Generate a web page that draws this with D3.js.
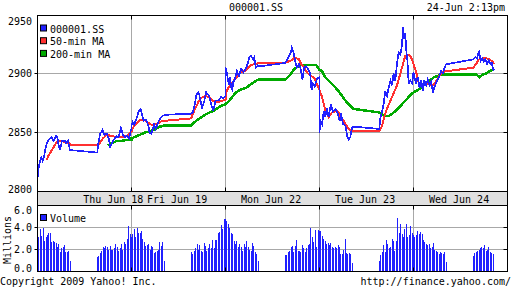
<!DOCTYPE html>
<html lang="en">
<head>
<meta charset="utf-8">
<title>000001.SS</title>
<script src="https://cdn.jsdelivr.net/npm/d3@7"></script>
<style>
  body { margin: 0; background: #fff; }
  text { font-family: "DejaVu Sans Mono", monospace; font-size: 10px; fill: #000; }
</style>
</head>
<body>
<script>
// trading days, 9:30-15:00 each (330 minutes incl. lunch break)
const days = ["Thu Jun 18", "Fri Jun 19", "Mon Jun 22", "Tue Jun 23", "Wed Jun 24"];
const dayLabelAt = [266, 160, 160, 160, 160]; // minute of the day where the label is centred
const priceTicks = [2800, 2850, 2900, 2950];
const volTicks = [0, 2, 4, 6];

// [minute after open, value]
const price = [
  [[0,2810],[2,2817],[8,2825],[13,2829],[18,2826],[23,2829],[26,2834],[33,2841],[40,2844],[50,2846],[56,2843],[65,2847],[70,2846],[72,2842],[79,2835],[86,2843],[96,2843],[100,2841],[107,2843],[114,2835],[120,2835],[210,2833],[213,2840],[220,2849],[228,2852],[235,2848],[243,2849],[250,2845],[255,2838],[260,2840],[268,2844],[278,2847],[285,2846],[293,2854],[300,2848],[307,2846],[315,2847],[322,2845],[327,2851],[330,2853]],
  [[0,2856],[4,2859],[10,2857],[18,2862],[25,2868],[32,2870],[36,2866],[42,2860],[50,2861],[56,2858],[60,2855],[63,2850],[70,2849],[75,2853],[79,2857],[85,2853],[96,2860],[108,2864],[120,2865],[210,2866],[215,2867],[222,2874],[228,2882],[234,2884],[238,2882],[243,2876],[248,2871],[255,2876],[262,2884],[272,2881],[280,2874],[287,2868],[295,2877],[305,2877],[314,2880],[322,2879],[330,2881]],
  [[0,2905],[5,2900],[12,2890],[16,2897],[20,2888],[24,2886],[27,2893],[32,2894],[40,2902],[47,2898],[55,2904],[63,2901],[73,2905],[80,2910],[84,2914],[90,2915],[97,2912],[101,2914],[106,2905],[114,2907],[120,2906],[210,2909],[217,2912],[224,2915],[230,2918],[233,2922],[239,2918],[246,2909],[251,2905],[258,2908],[264,2904],[270,2895],[276,2905],[283,2906],[289,2904],[297,2900],[302,2886],[307,2891],[313,2889],[322,2896],[330,2897]],
  [[0,2850],[3,2860],[9,2857],[15,2868],[20,2863],[26,2871],[32,2863],[40,2874],[47,2868],[56,2870],[64,2866],[71,2860],[75,2866],[83,2857],[91,2856],[97,2847],[102,2844],[108,2846],[114,2854],[120,2855],[210,2853],[214,2863],[220,2868],[225,2874],[231,2885],[237,2881],[243,2888],[249,2894],[255,2890],[260,2900],[266,2894],[272,2908],[278,2918],[284,2916],[290,2925],[293,2939],[298,2929],[301,2934],[305,2919],[309,2910],[313,2891],[319,2894],[325,2892],[330,2901]],
  [[0,2901],[3,2897],[9,2892],[15,2897],[21,2888],[27,2894],[33,2885],[38,2894],[44,2890],[50,2895],[56,2890],[62,2893],[68,2884],[73,2888],[79,2892],[85,2895],[91,2898],[97,2902],[103,2900],[109,2905],[115,2908],[120,2908],[210,2912],[218,2914],[223,2913],[227,2917],[230,2918],[236,2911],[241,2913],[246,2910],[252,2912],[258,2908],[264,2911],[270,2908],[275,2909],[279,2904],[283,2903]]
];

const ma50 = [
  [[32,2827],[40,2831],[50,2835],[68,2842],[79,2843],[96,2842],[110,2841],[120,2839],[210,2839],[219,2841],[230,2845],[243,2848],[261,2847],[279,2846],[296,2846],[313,2847],[328,2850],[330,2851]],
  [[0,2852],[14,2857],[26,2860],[38,2861],[49,2860],[61,2858],[73,2856],[84,2857],[96,2858],[108,2860],[120,2860],[210,2862],[214,2865],[225,2871],[237,2877],[249,2880],[260,2881],[272,2880],[284,2877],[295,2876],[307,2876],[319,2877],[330,2878]],
  [[0,2883],[8,2887],[20,2891],[32,2895],[43,2898],[55,2901],[67,2902],[79,2905],[90,2907],[102,2908],[120,2909],[210,2909],[219,2910],[231,2911],[239,2913],[248,2913],[258,2912],[266,2908],[278,2904],[289,2900],[301,2898],[313,2896],[321,2891],[330,2886]],
  [[0,2886],[9,2880],[15,2874],[20,2869],[26,2866],[32,2863],[38,2865],[44,2867],[56,2868],[64,2868],[73,2864],[85,2860],[94,2856],[102,2853],[114,2851],[120,2851],[210,2851],[214,2853],[220,2856],[225,2861],[231,2866],[237,2870],[249,2877],[260,2883],[272,2890],[284,2900],[293,2908],[301,2915],[310,2916],[319,2915],[328,2910],[330,2908]],
  [[0,2907],[6,2904],[13,2898],[17,2893],[24,2891],[44,2891],[56,2891],[64,2890],[73,2891],[83,2895],[91,2898],[103,2901],[114,2902],[120,2902],[210,2905],[220,2908],[226,2911],[231,2912],[243,2913],[255,2913],[267,2912],[278,2910],[283,2908]]
];

const ma200 = [
  [[246,2839],[261,2841],[279,2843],[296,2843],[324,2844],[330,2844]],
  [[0,2845],[29,2848],[47,2850],[65,2851],[82,2853],[100,2855],[117,2856],[120,2856],[210,2856],[222,2859],[240,2862],[258,2865],[275,2867],[293,2869],[310,2872],[330,2874]],
  [[0,2874],[14,2877],[26,2881],[38,2884],[49,2886],[61,2887],[73,2888],[84,2890],[96,2892],[108,2894],[120,2895],[210,2895],[219,2897],[231,2900],[242,2904],[254,2906],[266,2907],[319,2907],[330,2903]],
  [[0,2903],[9,2902],[20,2897],[32,2894],[44,2891],[56,2888],[67,2885],[79,2881],[91,2877],[102,2874],[114,2871],[120,2870],[210,2867],[220,2865],[231,2864],[243,2864],[255,2866],[266,2868],[278,2871],[290,2874],[301,2877],[313,2880],[325,2883],[330,2884]],
  [[0,2884],[15,2886],[27,2888],[38,2891],[50,2892],[62,2895],[73,2897],[85,2898],[97,2899],[109,2899],[120,2899],[210,2899],[220,2899],[226,2898],[232,2897],[243,2899],[255,2900],[267,2902],[278,2903],[283,2904]]
];

// 5-minute volume in millions: 24 morning bars then afternoon bars
const volume = [
  [2.5,3.1,3.9,3.2,4.0,2.8,3.1,3.3,3.5,3.5,2.7,2.8,2.7,2.6,2.2,2.5,1.8,2.1,2.2,2.4,1.8,1.8,1.9,1.0,
   1.3,1.4,1.7,1.9,2.2,2.1,2.3,2.2,2.0,2.3,2.0,2.0,2.1,2.5,2.2,1.9,2.1,2.5,2.0,2.7,2.5,3.0,4.1,3.4],
  [3.1,3.4,3.9,3.1,4.0,3.5,3.5,3.7,3.0,2.7,2.3,2.4,2.5,2.0,2.3,2.2,1.7,1.8,1.9,2.0,2.7,2.3,2.7,1.0,
   1.8,1.6,1.9,2.1,2.5,2.0,2.4,1.9,1.8,2.6,2.3,1.9,2.1,2.5,2.1,2.9,2.1,2.9,2.9,3.5,3.6,4.2,3.9,4.8],
  [4.8,4.6,4.3,4.0,3.5,3.4,2.8,2.5,2.8,2.2,2.5,2.2,1.9,2.5,2.2,2.8,2.2,2.0,1.9,2.6,2.3,1.8,1.6,1.0,
   1.5,1.5,1.8,1.9,2.2,2.3,1.8,2.3,2.9,1.9,1.9,1.8,2.4,2.1,1.8,2.1,2.4,2.5,4.0,3.1,2.7,3.8,2.2,3.8],
  [3.7,3.7,3.2,3.0,2.8,2.5,2.6,2.4,2.6,2.2,2.1,2.2,2.1,2.4,2.2,1.6,1.6,2.0,3.0,1.7,1.6,1.7,1.6,0.8,
   1.0,1.5,1.8,2.4,1.8,2.9,2.5,2.1,2.2,3.0,2.8,1.9,2.8,4.9,3.5,4.3,3.4,3.1,3.9,4.3,3.1,3.3,4.1,3.5],
  [3.3,3.1,3.3,3.7,3.4,3.6,3.4,2.9,2.7,2.5,2.4,2.5,2.1,2.2,2.6,2.0,1.9,1.8,1.6,1.8,1.7,1.6,1.8,0.85,
   1.4,1.7,1.8,1.9,2.0,2.1,2.2,2.1,2.4,1.9,2.0,2.2,1.8,1.7,1.6]
];

const BLUE = "#2020ff", RED = "#ff3030", GREEN = "#00aa00", GRID = "#a8a8a8";
const DAY = 330;

const svg = d3.select("body").append("svg")
  .attr("width", 512)
  .attr("height", 288);

const L = 37.5, R = 507.5, PT = 15.5, PB = 191.5, VT = 205.5, VB = 271.5;

const x = d3.scaleLinear().domain([0, days.length * DAY]).range([L, R]);
const y = d3.scaleLinear().domain([2800, 2950]).range([PB, PT - 1]);
const yv = d3.scaleLinear().domain([0, 6]).range([VB, VT]);

function flatten(series) {
  return series.flatMap((d, i) => d.map(p => [i * DAY + p[0], p[1]]));
}

// date band
svg.append("rect")
  .attr("x", L).attr("y", PB).attr("width", R - L).attr("height", VT - PB)
  .attr("fill", "#e0e0e0");

svg.selectAll(".daylabel").data(days).enter().append("text")
  .attr("x", (d, i) => x(i * DAY + dayLabelAt[i]))
  .attr("y", 202.5)
  .attr("text-anchor", "middle")
  .text(d => d);

// grid
const bounds = d3.range(1, days.length).map(i => i * DAY);
[[PT, PB], [VT, VB]].forEach(([t, b]) => {
  svg.selectAll(null).data(bounds).enter().append("line")
    .attr("x1", d => x(d)).attr("x2", d => x(d))
    .attr("y1", t).attr("y2", b)
    .attr("stroke", GRID);
});
svg.selectAll(null).data([2850, 2900]).enter().append("line")
  .attr("x1", L).attr("x2", R).attr("y1", d => y(d)).attr("y2", d => y(d))
  .attr("stroke", GRID);
svg.selectAll(null).data([2, 4]).enter().append("line")
  .attr("x1", L).attr("x2", R).attr("y1", d => yv(d)).attr("y2", d => yv(d))
  .attr("stroke", GRID);

// volume bars
const vols = volume.flatMap((d, i) => d.map((v, j) =>
  [i * DAY + (j < 24 ? j * 5 : 210 + (j - 24) * 5), v]));
svg.append("g").selectAll("rect").data(vols).enter().append("rect")
  .attr("x", d => Math.floor(x(d[0])))
  .attr("width", 1)
  .attr("y", d => Math.round(yv(d[1])))
  .attr("height", d => VB - Math.round(yv(d[1])))
  .attr("fill", BLUE)
  .attr("shape-rendering", "crispEdges");

// price lines, drawn aliased like the original bitmap
const line = d3.line().x(d => x(d[0])).y(d => y(d[1]));
[[ma200, GREEN, 2.5], [ma50, RED, 2], [price, BLUE, 1.7]].forEach(([s, c, w]) => {
  svg.append("path")
    .attr("d", line(flatten(s)))
    .attr("fill", "none")
    .attr("stroke", c)
    .attr("stroke-width", w)
    .attr("shape-rendering", "crispEdges");
});

// frames
[[PT, PB], [PB, VT], [VT, VB]].forEach(([t, b]) => {
  svg.append("rect")
    .attr("x", L).attr("y", t).attr("width", R - L).attr("height", b - t)
    .attr("fill", "none").attr("stroke", "#000");
});

// ticks
[[PT, 4], [PB, -4], [VT, 4], [VB, -4]].forEach(([y0, len]) => {
  svg.selectAll(null).data(bounds).enter().append("line")
    .attr("x1", d => x(d)).attr("x2", d => x(d))
    .attr("y1", y0).attr("y2", y0 + len)
    .attr("stroke", "#000");
});
const hTicks = [2850, 2900].map(v => y(v)).concat([2, 4].map(v => yv(v)));
svg.selectAll(null).data(hTicks).enter().append("line")
  .attr("x1", R - 4).attr("x2", R).attr("y1", d => d).attr("y2", d => d)
  .attr("stroke", "#000");
svg.selectAll(null).data(hTicks).enter().append("line")
  .attr("x1", L - 3).attr("x2", L).attr("y1", d => d).attr("y2", d => d)
  .attr("stroke", "#000");

// axis labels
svg.selectAll(null).data(priceTicks).enter().append("text")
  .attr("x", 32)
  .attr("y", d => Math.min(Math.max(y(d), 21), 189.3) + 3.5)
  .attr("text-anchor", "end")
  .text(d => d);
svg.selectAll(null).data(volTicks).enter().append("text")
  .attr("x", 32)
  .attr("y", d => Math.min(Math.max(yv(d), 210.5), 268) + 3.8)
  .attr("text-anchor", "end")
  .text(d => d3.format(".1f")(d));
svg.append("text")
  .attr("transform", "translate(11,240) rotate(-90)")
  .attr("text-anchor", "middle")
  .text("Millions");

// legends
const legend = [["000001.SS", BLUE], ["50-min MA", RED], ["200-min MA", GREEN]];
legend.forEach(([name, c], i) => {
  const by = 32.5 + i * 12.7;
  svg.append("rect").attr("x", 40.5).attr("y", by - 7.5).attr("width", 6).attr("height", 6)
    .attr("fill", c).attr("stroke", "#000");
  svg.append("text").attr("x", 50).attr("y", by).text(name);
});
svg.append("rect").attr("x", 40.5).attr("y", 214.5).attr("width", 6).attr("height", 6)
  .attr("fill", BLUE).attr("stroke", "#000");
svg.append("text").attr("x", 50).attr("y", 222.3).text("Volume");

// header and footer
svg.append("text").attr("x", 256).attr("y", 10.5).attr("text-anchor", "middle").text("000001.SS");
svg.append("text").attr("x", 505).attr("y", 10.5).attr("text-anchor", "end").text("24-Jun 2:13pm");
svg.append("text").attr("x", 0).attr("y", 284.5).text("Copyright 2009 Yahoo! Inc.");
svg.append("text").attr("x", 511).attr("y", 284.5).attr("text-anchor", "end").text("http://finance.yahoo.com/");
</script>
</body>
</html>
